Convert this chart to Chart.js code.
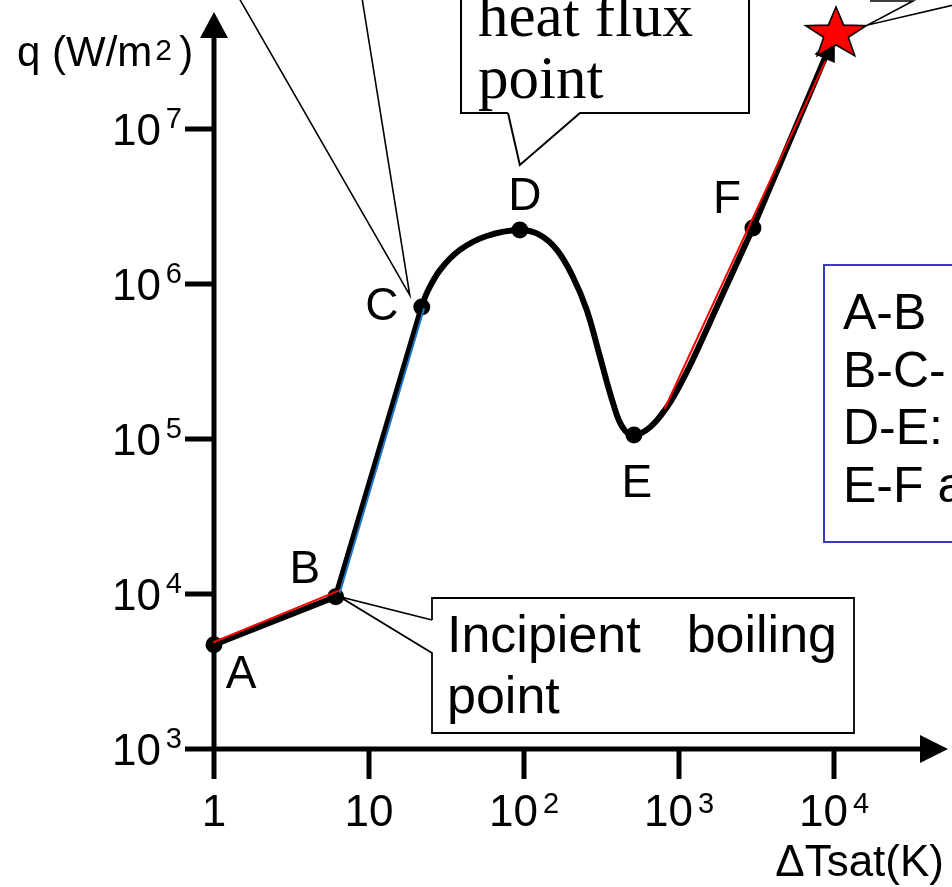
<!DOCTYPE html>
<html>
<head>
<meta charset="utf-8">
<script src="https://cdn.jsdelivr.net/npm/chart.js@4.4.0/dist/chart.umd.min.js"></script>
<style>
    html, body { margin: 0; padding: 0; background: #fff; }
    canvas { display: block; }
</style>
</head>
<body>
<canvas id="boilingChart" width="952" height="887"></canvas>
<script>
// key points A..F of the boiling curve
var pointLabels = ['A', 'B', 'C', 'D', 'E', 'F'];
var pointDT = [1, 6.1, 21.9, 94, 512, 3000];
var pointQ = [4700, 9600, 7.1e5, 2.23e6, 1.06e5, 2.3e6];

// straight part A-B-C
var lowDT = [1, 6.1, 21.9];
var lowQ = [4700, 9600, 7.1e5];

// smooth part C-D-E-F
var curveDT = [21.9, 23.6, 28.7, 38.6, 57.5, 94, 127, 163, 207, 254, 309, 375, 435, 512, 650, 837, 1015, 1250, 1840, 3000];
var curveQ = [7.1e5, 8.75e5, 1.23e6, 1.66e6, 2.04e6, 2.23e6, 2.07e6, 1.66e6, 1.11e6, 6.8e5, 3.4e5, 1.71e5, 1.18e5, 1.06e5, 1.19e5, 1.61e5, 2.23e5, 3.38e5, 7.88e5, 2.3e6];

// F up to the peak (star)
var tailDT = [3000, 10300];
var tailQ = [2.3e6, 4.23e7];
var peakDT = [10300];
var peakQ = [4.23e7];

// thin reference lines
var natDT = [1, 6.5];
var natQ = [4900, 1.06e4];
var nucDT = [6.5, 22.6];
var nucQ = [1.03e4, 6.9e5];
var filmDT = [812, 8750];
var filmQ = [1.585e5, 2.7e7];

// axis ticks
var xTicks = [1, 10, 100, 1000, 10000];
var xTickText = [['1', ''], ['10', ''], ['10', '2'], ['10', '3'], ['10', '4']];
var yTicks = [1e3, 1e4, 1e5, 1e6, 1e7];
var yTickText = [['10', '3'], ['10', '4'], ['10', '5'], ['10', '6'], ['10', '7']];

var SANS = '"Liberation Sans", Arial, sans-serif';
var SERIF = '"Liberation Serif", "Times New Roman", serif';

function toXY(xs, ys) {
    var out = [];
    for (var i = 0; i < xs.length; i++) {
        out.push({ x: xs[i], y: ys[i] });
    }
    return out;
}

function makeStar() {
    var c = document.createElement('canvas');
    c.width = 80;
    c.height = 64;
    var g = c.getContext('2d');
    var R = 27, r = 11;
    g.beginPath();
    for (var i = 0; i < 10; i++) {
        var a = -Math.PI / 2 + i * Math.PI / 5;
        var rad = i % 2 === 0 ? R : r;
        g.lineTo(40 + 1.18 * rad * Math.cos(a), 34 + rad * Math.sin(a));
    }
    g.closePath();
    g.fillStyle = '#ff0000';
    g.fill();
    g.lineWidth = 1.6;
    g.strokeStyle = '#000';
    g.lineJoin = 'miter';
    g.stroke();
    return c;
}

function lineSet(data, color, width, order, extra) {
    var ds = {
        data: data,
        showLine: true,
        borderColor: color,
        borderWidth: width,
        pointRadius: 0,
        pointHoverRadius: 0,
        fill: false,
        clip: false,
        order: order,
        borderCapStyle: 'round',
        borderJoinStyle: 'round'
    };
    for (var k in extra) ds[k] = extra[k];
    return ds;
}

function drawSup(ctx, base, sup, x, baseY, supY, align) {
    ctx.font = '44px ' + SANS;
    var wb = ctx.measureText(base).width;
    ctx.font = '29px ' + SANS;
    var ws = sup ? ctx.measureText(sup).width : 0;
    var gap = sup ? 5 : 0;
    var total = wb + gap + ws;
    var start = align === 'right' ? x - total : x - total / 2;
    ctx.textAlign = 'left';
    ctx.textBaseline = 'alphabetic';
    ctx.font = '44px ' + SANS;
    ctx.fillText(base, start, baseY);
    if (sup) {
        ctx.font = '29px ' + SANS;
        ctx.fillText(sup, start + wb + gap, supY);
    }
}

var axesPlugin = {
    id: 'axesPlugin',
    beforeDatasetsDraw: function (chart) {
        var ctx = chart.ctx;
        var xs = chart.scales.x, ys = chart.scales.y;
        var x0 = xs.getPixelForValue(1);
        var y0 = ys.getPixelForValue(1000);
        ctx.save();
        ctx.strokeStyle = '#000';
        ctx.fillStyle = '#000';
        ctx.lineWidth = 5;
        ctx.lineCap = 'butt';
        // y axis + arrow
        ctx.beginPath();
        ctx.moveTo(x0, y0 + 2);
        ctx.lineTo(x0, 36);
        ctx.stroke();
        ctx.beginPath();
        ctx.moveTo(x0, 12);
        ctx.lineTo(x0 + 14, 38);
        ctx.lineTo(x0 - 14, 38);
        ctx.closePath();
        ctx.fill();
        // x axis + arrow
        ctx.beginPath();
        ctx.moveTo(x0 - 2, y0);
        ctx.lineTo(922, y0);
        ctx.stroke();
        ctx.beginPath();
        ctx.moveTo(948, y0);
        ctx.lineTo(920, y0 - 14);
        ctx.lineTo(920, y0 + 14);
        ctx.closePath();
        ctx.fill();
        // ticks
        ctx.beginPath();
        for (var i = 0; i < xTicks.length; i++) {
            var px = xs.getPixelForValue(xTicks[i]);
            ctx.moveTo(px, y0);
            ctx.lineTo(px, y0 + 30);
        }
        for (var j = 0; j < yTicks.length; j++) {
            var py = ys.getPixelForValue(yTicks[j]);
            ctx.moveTo(x0, py);
            ctx.lineTo(x0 - 29, py);
        }
        ctx.stroke();
        // tick labels
        for (var i2 = 0; i2 < xTicks.length; i2++) {
            var lx = xs.getPixelForValue(xTicks[i2]);
            drawSup(ctx, xTickText[i2][0], xTickText[i2][1], lx, y0 + 77, y0 + 64, 'center');
        }
        for (var j2 = 0; j2 < yTicks.length; j2++) {
            var ly = ys.getPixelForValue(yTicks[j2]);
            drawSup(ctx, yTickText[j2][0], yTickText[j2][1], 182, ly + 16, ly - 1, 'right');
        }
        // axis titles
        ctx.textAlign = 'left';
        ctx.font = '42px ' + SANS;
        ctx.fillText('q (W/m', 17, 66);
        var w = ctx.measureText('q (W/m').width;
        ctx.font = '30px ' + SANS;
        ctx.fillText('2', 17 + w + 3, 60);
        ctx.font = '42px ' + SANS;
        ctx.fillText(')', 17 + w + 27, 66);
        ctx.textAlign = 'right';
        ctx.font = '44px ' + SANS;
        ctx.fillText('\u0394Tsat(K)', 944, 876);
        ctx.restore();
    },
    afterDatasetDraw: function (chart, args) {
        if (args.index !== 5) return;
        // arrow head at the end of F - peak segment
        var pts = args.meta.data;
        var a = pts[0], b = pts[1];
        var dx = b.x - a.x, dy = b.y - a.y;
        var len = Math.sqrt(dx * dx + dy * dy);
        var ux = dx / len, uy = dy / len;
        var tipX = b.x - ux * 3, tipY = b.y - uy * 3;
        var bx = tipX - ux * 26, by = tipY - uy * 26;
        var ctx = chart.ctx;
        ctx.save();
        ctx.fillStyle = '#000';
        ctx.beginPath();
        ctx.moveTo(tipX, tipY);
        ctx.lineTo(bx - uy * 11, by + ux * 11);
        ctx.lineTo(bx + uy * 11, by - ux * 11);
        ctx.closePath();
        ctx.fill();
        ctx.restore();
    },
    afterDatasetsDraw: function (chart) {
        var ctx = chart.ctx;
        var dots = chart.getDatasetMeta(4).data;
        var star = chart.getDatasetMeta(0).data[0];
        ctx.save();
        // point letters
        var offs = [[27, 43], [-31, -14], [-40, 13], [5, -20], [3, 62], [-26, -15]];
        ctx.fillStyle = '#000';
        ctx.font = '46px ' + SANS;
        ctx.textAlign = 'center';
        ctx.textBaseline = 'alphabetic';
        for (var i = 0; i < pointLabels.length; i++) {
            ctx.fillText(pointLabels[i], dots[i].x + offs[i][0], dots[i].y + offs[i][1]);
        }

        ctx.strokeStyle = '#000';
        ctx.lineWidth = 1.6;
        ctx.lineJoin = 'miter';
        // callout towards C (box above the picture)
        var cx = dots[2].x - 12, cy = dots[2].y - 12;
        ctx.beginPath();
        ctx.moveTo(239, -2);
        ctx.lineTo(cx, cy);
        ctx.lineTo(362, -2);
        ctx.stroke();

        // heat flux point box, pointing at D
        var tx = dots[3].x, ty = dots[3].y - 65;
        ctx.lineWidth = 2;
        ctx.beginPath();
        ctx.moveTo(508, 113);
        ctx.lineTo(461, 113);
        ctx.lineTo(461, -5);
        ctx.moveTo(749, -5);
        ctx.lineTo(749, 113);
        ctx.lineTo(580, 113);
        ctx.lineTo(tx, ty);
        ctx.lineTo(508, 113);
        ctx.stroke();
        ctx.textAlign = 'left';
        ctx.font = '61px ' + SERIF;
        ctx.fillText('heat flux', 478, 36);
        ctx.fillText('point', 478, 98);

        // incipient boiling point box, pointing at B
        var bxp = dots[1].x + 4, byp = dots[1].y;
        ctx.lineWidth = 1.8;
        ctx.beginPath();
        ctx.moveTo(432, 620);
        ctx.lineTo(432, 598);
        ctx.lineTo(854, 598);
        ctx.lineTo(854, 733);
        ctx.lineTo(432, 733);
        ctx.lineTo(432, 653);
        ctx.lineTo(bxp, byp);
        ctx.lineTo(432, 620);
        ctx.stroke();
        ctx.font = '52px ' + SANS;
        ctx.textAlign = 'left';
        ctx.fillText('Incipient', 447, 652);
        ctx.textAlign = 'right';
        ctx.fillText('boiling', 837, 652);
        ctx.textAlign = 'left';
        ctx.fillText('point', 447, 713);

        // callout from the star
        var sx = star.x + 32, sy = star.y - 7;
        ctx.lineWidth = 1.6;
        ctx.beginPath();
        ctx.moveTo(870, 1);
        ctx.lineTo(913, 1);
        ctx.lineTo(sx, sy);
        ctx.lineTo(962, 3);
        ctx.stroke();

        // regime box (cut off at the right edge)
        ctx.strokeStyle = '#3a3ac0';
        ctx.lineWidth = 2;
        ctx.strokeRect(824, 265, 140, 277);
        ctx.fillStyle = '#000';
        ctx.font = '50px ' + SANS;
        ctx.textAlign = 'left';
        ctx.fillText('A-B', 843, 329);
        ctx.fillText('B-C-', 843, 387);
        ctx.fillText('D-E:', 843, 444);
        ctx.fillText('E-F a', 843, 502);
        ctx.restore();
    }
};

var ctx = document.getElementById('boilingChart').getContext('2d');
var boilingChart = new Chart(ctx, {
    type: 'scatter',
    data: {
        datasets: [
            {
                data: toXY(peakDT, peakQ),
                pointStyle: makeStar(),
                pointRadius: 28,
                pointHoverRadius: 28,
                showLine: false,
                clip: false,
                order: 0
            },
            lineSet(toXY(filmDT, filmQ), '#ff0000', 2, 1),
            lineSet(toXY(nucDT, nucQ), '#1f78c8', 2, 1),
            lineSet(toXY(natDT, natQ), '#ff0000', 2, 1),
            {
                data: toXY(pointDT, pointQ),
                showLine: false,
                pointRadius: 8.5,
                pointHoverRadius: 8.5,
                pointBackgroundColor: '#000',
                pointBorderColor: '#000',
                pointBorderWidth: 0,
                clip: false,
                order: 2
            },
            lineSet(toXY(tailDT, tailQ), '#000', 6, 3),
            lineSet(toXY(curveDT, curveQ), '#000', 6, 3, { tension: 0.4 }),
            lineSet(toXY(lowDT, lowQ), '#000', 6, 3)
        ]
    },
    options: {
        responsive: false,
        animation: false,
        devicePixelRatio: 1,
        layout: {
            autoPadding: false,
            padding: { left: 214, right: 4, top: 14, bottom: 138 }
        },
        scales: {
            x: {
                type: 'logarithmic',
                min: 1,
                max: Math.pow(10, 734 / 155),
                display: false
            },
            y: {
                type: 'logarithmic',
                min: 1000,
                max: Math.pow(10, 3 + 735 / 155),
                display: false
            }
        },
        plugins: {
            legend: { display: false },
            tooltip: { enabled: false }
        }
    },
    plugins: [axesPlugin]
});
</script>
</body>
</html>
